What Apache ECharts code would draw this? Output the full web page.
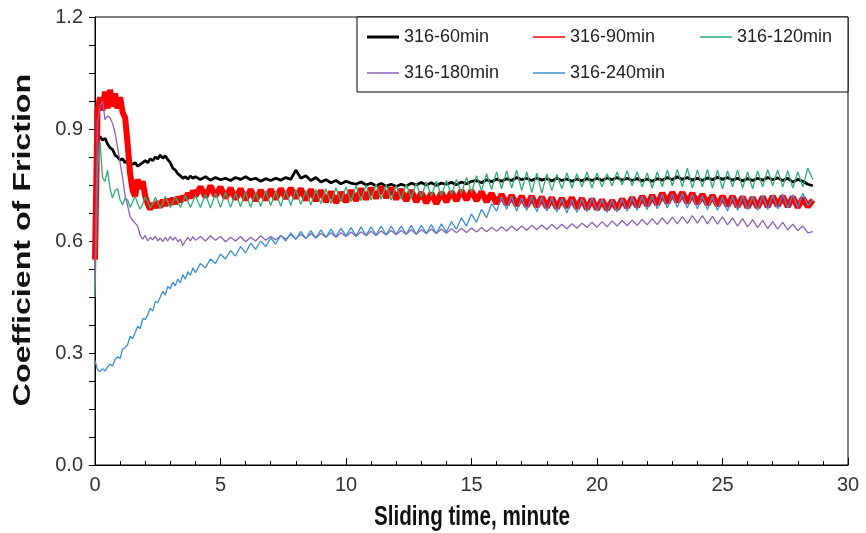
<!DOCTYPE html>
<html>
<head>
<meta charset="utf-8">
<title>Coefficient of Friction vs Sliding time</title>
<script src="https://cdn.jsdelivr.net/npm/echarts@6/dist/echarts.min.js"></script>
<style>
  html, body { margin: 0; padding: 0; background: #fff; }
  #chart { width: 866px; height: 533px; }
</style>
</head>
<body>
<div id="chart"></div>
<script>
// Sampling of the friction records: 0.1 min steps up to 4 min, then 0.2 min steps.
const HEAD_STEP = 0.1;
const TAIL_START = 4.2;
const TAIL_STEP = 0.2;

const seriesNames = ['316-60min', '316-90min', '316-120min', '316-180min', '316-240min'];

// 316-60min
const head60 = [0.58, 0.87, 0.88, 0.87, 0.875, 0.86, 0.85, 0.845, 0.83, 0.825,
  0.817, 0.82, 0.81, 0.815, 0.81, 0.805, 0.81, 0.80, 0.805, 0.81,
  0.815, 0.81, 0.82, 0.815, 0.825, 0.82, 0.83, 0.822, 0.828, 0.818,
  0.81, 0.795, 0.79, 0.78, 0.775, 0.768, 0.772, 0.766, 0.774, 0.768, 0.772];
const tail60 = [
  0.765, 0.772, 0.763, 0.770, 0.764,
  0.768, 0.762, 0.770, 0.765, 0.772,
  0.764, 0.768, 0.760, 0.767, 0.762,
  0.768, 0.763, 0.770, 0.765, 0.790,
  0.768, 0.775, 0.762, 0.770, 0.758,
  0.764, 0.756, 0.762, 0.753, 0.760,
  0.755, 0.752, 0.758, 0.750, 0.755,
  0.748, 0.754, 0.747, 0.752, 0.746,
  0.752, 0.747, 0.755, 0.750, 0.757,
  0.750, 0.756, 0.749, 0.755, 0.752,
  0.757, 0.751, 0.758, 0.753, 0.760,
  0.762, 0.756, 0.764, 0.759, 0.766,
  0.760, 0.767, 0.762, 0.770, 0.764,
  0.768, 0.762, 0.769, 0.763, 0.767,
  0.761, 0.768, 0.762, 0.766, 0.760,
  0.766, 0.761, 0.767, 0.762, 0.768,
  0.762, 0.769, 0.764, 0.770, 0.763,
  0.768, 0.762, 0.767, 0.761, 0.766,
  0.760, 0.767, 0.763, 0.770, 0.764,
  0.772, 0.765, 0.770, 0.763, 0.768,
  0.762, 0.769, 0.764, 0.771, 0.765,
  0.770, 0.763, 0.768, 0.761, 0.767,
  0.762, 0.768, 0.763, 0.770, 0.764,
  0.769, 0.762, 0.768, 0.758, 0.765,
  0.760, 0.752, 0.748];

// 316-90min
const head90 = [0.55, 0.95, 0.985, 0.95, 1.0, 0.955, 1.005, 0.96, 0.995, 0.955,
  0.985, 0.945, 0.93, 0.86, 0.78, 0.735, 0.72, 0.765, 0.74, 0.76,
  0.72, 0.70, 0.685, 0.70, 0.69, 0.705, 0.69, 0.71, 0.695, 0.712,
  0.698, 0.715, 0.70, 0.718, 0.705, 0.72, 0.71, 0.728, 0.715, 0.735, 0.72];
const tail90 = [
  0.745, 0.718, 0.748, 0.720, 0.745,
  0.715, 0.742, 0.712, 0.740, 0.710,
  0.738, 0.708, 0.736, 0.710, 0.738,
  0.712, 0.740, 0.714, 0.742, 0.715,
  0.740, 0.710, 0.738, 0.708, 0.735,
  0.705, 0.732, 0.703, 0.730, 0.705,
  0.735, 0.708, 0.740, 0.712, 0.742,
  0.715, 0.745, 0.716, 0.742, 0.712,
  0.738, 0.708, 0.735, 0.705, 0.730,
  0.702, 0.728, 0.700, 0.730, 0.705,
  0.732, 0.708, 0.735, 0.710, 0.735,
  0.708, 0.732, 0.705, 0.728, 0.700,
  0.725, 0.698, 0.722, 0.695, 0.720,
  0.693, 0.720, 0.692, 0.718, 0.690,
  0.716, 0.688, 0.714, 0.690, 0.716,
  0.688, 0.714, 0.686, 0.712, 0.685,
  0.710, 0.684, 0.708, 0.686, 0.712,
  0.690, 0.716, 0.692, 0.720, 0.695,
  0.722, 0.698, 0.728, 0.702, 0.730,
  0.705, 0.730, 0.702, 0.728, 0.700,
  0.725, 0.698, 0.722, 0.695, 0.720,
  0.694, 0.720, 0.692, 0.718, 0.690,
  0.716, 0.690, 0.718, 0.692, 0.720,
  0.694, 0.720, 0.692, 0.718, 0.690,
  0.715, 0.692, 0.710];

// 316-120min
const head120 = [0.45, 0.80, 0.865, 0.77, 0.76, 0.79, 0.74, 0.715, 0.735, 0.74,
  0.71, 0.697, 0.715, 0.71, 0.69, 0.705, 0.72, 0.70, 0.685, 0.70,
  0.718, 0.705, 0.688, 0.70, 0.717, 0.703, 0.688, 0.702, 0.72, 0.705,
  0.69, 0.703, 0.72, 0.705, 0.69, 0.705, 0.722, 0.706, 0.69, 0.705, 0.722];
const tail120 = [
  0.690, 0.725, 0.688, 0.728, 0.690,
  0.730, 0.690, 0.728, 0.692, 0.732,
  0.690, 0.730, 0.692, 0.735, 0.695,
  0.732, 0.693, 0.735, 0.695, 0.738,
  0.698, 0.735, 0.696, 0.738, 0.700,
  0.740, 0.700, 0.742, 0.705, 0.745,
  0.705, 0.748, 0.708, 0.750, 0.710,
  0.752, 0.712, 0.750, 0.710, 0.748,
  0.712, 0.752, 0.715, 0.755, 0.718,
  0.758, 0.720, 0.760, 0.722, 0.762,
  0.725, 0.765, 0.728, 0.770, 0.730,
  0.775, 0.735, 0.780, 0.738, 0.785,
  0.740, 0.788, 0.742, 0.790, 0.735,
  0.785, 0.730, 0.782, 0.728, 0.780,
  0.735, 0.778, 0.740, 0.782, 0.742,
  0.780, 0.745, 0.785, 0.742, 0.782,
  0.745, 0.780, 0.748, 0.785, 0.750,
  0.788, 0.748, 0.785, 0.745, 0.782,
  0.742, 0.785, 0.745, 0.790, 0.748,
  0.792, 0.745, 0.795, 0.742, 0.790,
  0.745, 0.792, 0.742, 0.790, 0.740,
  0.788, 0.745, 0.790, 0.742, 0.785,
  0.740, 0.788, 0.745, 0.792, 0.748,
  0.790, 0.745, 0.788, 0.742, 0.785,
  0.745, 0.795, 0.765];

// 316-180min
const head180 = [0.50, 0.92, 0.96, 0.975, 0.925, 0.935, 0.93, 0.915, 0.89, 0.85,
  0.81, 0.77, 0.72, 0.695, 0.665, 0.655, 0.648, 0.64, 0.615, 0.605,
  0.615, 0.60, 0.61, 0.603, 0.613, 0.60, 0.608, 0.598, 0.61, 0.60,
  0.612, 0.602, 0.61, 0.598, 0.605, 0.588, 0.60, 0.61, 0.60, 0.612, 0.602];
const tail180 = [
  0.612, 0.600, 0.614, 0.602, 0.612,
  0.598, 0.610, 0.600, 0.612, 0.598,
  0.610, 0.600, 0.614, 0.602, 0.612,
  0.603, 0.615, 0.605, 0.617, 0.606,
  0.618, 0.607, 0.620, 0.608, 0.620,
  0.610, 0.622, 0.610, 0.622, 0.612,
  0.624, 0.612, 0.625, 0.614, 0.626,
  0.615, 0.627, 0.616, 0.628, 0.617,
  0.628, 0.618, 0.630, 0.618, 0.630,
  0.620, 0.632, 0.620, 0.632, 0.621,
  0.633, 0.622, 0.634, 0.623, 0.635,
  0.624, 0.636, 0.625, 0.637, 0.626,
  0.638, 0.627, 0.640, 0.628, 0.640,
  0.629, 0.642, 0.630, 0.643, 0.631,
  0.644, 0.632, 0.645, 0.633, 0.646,
  0.634, 0.648, 0.636, 0.650, 0.637,
  0.652, 0.638, 0.654, 0.640, 0.655,
  0.641, 0.656, 0.642, 0.658, 0.643,
  0.660, 0.644, 0.662, 0.645, 0.664,
  0.646, 0.665, 0.647, 0.668, 0.648,
  0.668, 0.646, 0.666, 0.645, 0.665,
  0.643, 0.662, 0.640, 0.660, 0.638,
  0.657, 0.636, 0.655, 0.634, 0.652,
  0.632, 0.650, 0.630, 0.645, 0.628,
  0.640, 0.622, 0.625];

// 316-240min
const head240 = [0.28, 0.255, 0.25, 0.258, 0.252, 0.262, 0.27, 0.265, 0.283, 0.29,
  0.285, 0.31, 0.315, 0.322, 0.345, 0.338, 0.355, 0.372, 0.365, 0.392,
  0.39, 0.402, 0.42, 0.412, 0.438, 0.435, 0.45, 0.465, 0.455, 0.478,
  0.472, 0.49, 0.48, 0.498, 0.488, 0.51, 0.498, 0.518, 0.508, 0.528, 0.515];
const tail240 = [
  0.540, 0.528, 0.552, 0.540, 0.565,
  0.552, 0.574, 0.560, 0.585, 0.568,
  0.594, 0.578, 0.600, 0.585, 0.608,
  0.592, 0.615, 0.600, 0.622, 0.604,
  0.626, 0.606, 0.628, 0.608, 0.630,
  0.610, 0.632, 0.612, 0.634, 0.614,
  0.636, 0.614, 0.638, 0.615, 0.638,
  0.616, 0.640, 0.616, 0.640, 0.618,
  0.640, 0.618, 0.642, 0.618, 0.642,
  0.620, 0.644, 0.620, 0.646, 0.624,
  0.652, 0.632, 0.662, 0.640, 0.672,
  0.650, 0.685, 0.662, 0.700, 0.680,
  0.718, 0.685, 0.720, 0.680, 0.716,
  0.682, 0.720, 0.678, 0.718, 0.680,
  0.716, 0.678, 0.714, 0.675, 0.712,
  0.676, 0.714, 0.678, 0.716, 0.680,
  0.712, 0.676, 0.710, 0.678, 0.714,
  0.680, 0.718, 0.682, 0.720, 0.684,
  0.722, 0.686, 0.725, 0.688, 0.726,
  0.690, 0.728, 0.688, 0.725, 0.686,
  0.722, 0.684, 0.720, 0.682, 0.718,
  0.680, 0.720, 0.682, 0.722, 0.684,
  0.720, 0.682, 0.722, 0.684, 0.724,
  0.686, 0.726, 0.688, 0.724, 0.690,
  0.728, 0.695, 0.710];

const xTicks = [0, 5, 10, 15, 20, 25, 30];
const yTicks = [0.0, 0.3, 0.6, 0.9, 1.2];
const xTitle = 'Sliding time, minute';
const yTitle = 'Coefficient of Friction';

const colors = ['#000000', '#ff0000', '#2fae74', '#8b62b8', '#3d8fd2'];
const widths = [2.8, 6, 1.3, 1.3, 1.3];

function toPoints(head, tail) {
  const pts = [];
  head.forEach((v, i) => pts.push([Math.round(i * HEAD_STEP * 100) / 100, v]));
  tail.forEach((v, i) => pts.push([Math.round((TAIL_START + i * TAIL_STEP) * 100) / 100, v]));
  return pts;
}

const rawSeries = [
  [head60, tail60], [head90, tail90], [head120, tail120], [head180, tail180], [head240, tail240]
];

const SANS = '"Liberation Sans", Arial, sans-serif';

// Legend entries laid out in a fixed 3-column grid inside a framed box
const legendPos = [[367, 28], [533, 28], [700, 28], [367, 64], [533, 64]];
const legends = seriesNames.map((name, i) => ({
  data: [name],
  left: legendPos[i][0],
  top: legendPos[i][1],
  padding: 0,
  icon: 'rect',
  itemWidth: 32,
  itemHeight: i === 0 ? 3 : 1.5,
  itemGap: 0,
  selectedMode: false,
  textStyle: { fontFamily: SANS, fontSize: 18, color: '#222' }
}));

const chart = echarts.init(document.getElementById('chart'), null, { renderer: 'canvas' });

chart.setOption({
  animation: false,
  backgroundColor: '#ffffff',
  color: colors,
  grid: {
    left: 95, right: 18, top: 17, bottom: 68,
    show: true, borderColor: '#000', borderWidth: 1, backgroundColor: 'transparent'
  },
  graphic: [
    {
      type: 'rect',
      shape: { x: 357, y: 17, width: 491, height: 75 },
      style: { fill: '#fff', stroke: '#000', lineWidth: 1 },
      z: 3
    },
    {
      // axis titles drawn in a tall, condensed bold face
      type: 'text',
      x: 472, y: 518,
      scaleX: 0.86, scaleY: 1.12,
      style: { text: xTitle, fontFamily: SANS, fontWeight: 'bold', fontSize: 24,
        fill: '#111', align: 'center', verticalAlign: 'middle' }
    },
    {
      type: 'text',
      x: 23, y: 240,
      rotation: Math.PI / 2,
      scaleX: 1.34, scaleY: 1.0,
      style: { text: yTitle, fontFamily: SANS, fontWeight: 'bold', fontSize: 24,
        fill: '#111', align: 'center', verticalAlign: 'middle' }
    }
  ],
  legend: legends,
  xAxis: {
    type: 'value',
    min: xTicks[0],
    max: xTicks[xTicks.length - 1],
    interval: 5,
    axisLine: { lineStyle: { color: '#000', width: 1 } },
    axisTick: { inside: true, length: 7, lineStyle: { color: '#000' } },
    minorTick: { show: true, splitNumber: 5, length: 4, lineStyle: { color: '#000' } },
    axisLabel: { fontFamily: SANS, fontSize: 20, color: '#333', margin: 10 },
    splitLine: { show: false }
  },
  yAxis: {
    type: 'value',
    min: yTicks[0],
    max: yTicks[yTicks.length - 1],
    interval: 0.3,
    axisLine: { show: true, lineStyle: { color: '#000', width: 1 } },
    axisTick: { show: true, length: 6, lineStyle: { color: '#000' } },
    minorTick: { show: true, splitNumber: 4, length: 6, lineStyle: { color: '#000' } },
    axisLabel: { fontFamily: SANS, fontSize: 20, color: '#333', margin: 12,
      formatter: v => v.toFixed(1) },
    splitLine: { show: false }
  },
  series: rawSeries.map((pair, i) => ({
    name: seriesNames[i],
    type: 'line',
    data: toPoints(pair[0], pair[1]),
    showSymbol: false,
    symbol: 'none',
    lineStyle: { color: colors[i], width: widths[i] },
    itemStyle: { color: colors[i] },
    z: 2 + i
  }))
});
</script>
</body>
</html>
